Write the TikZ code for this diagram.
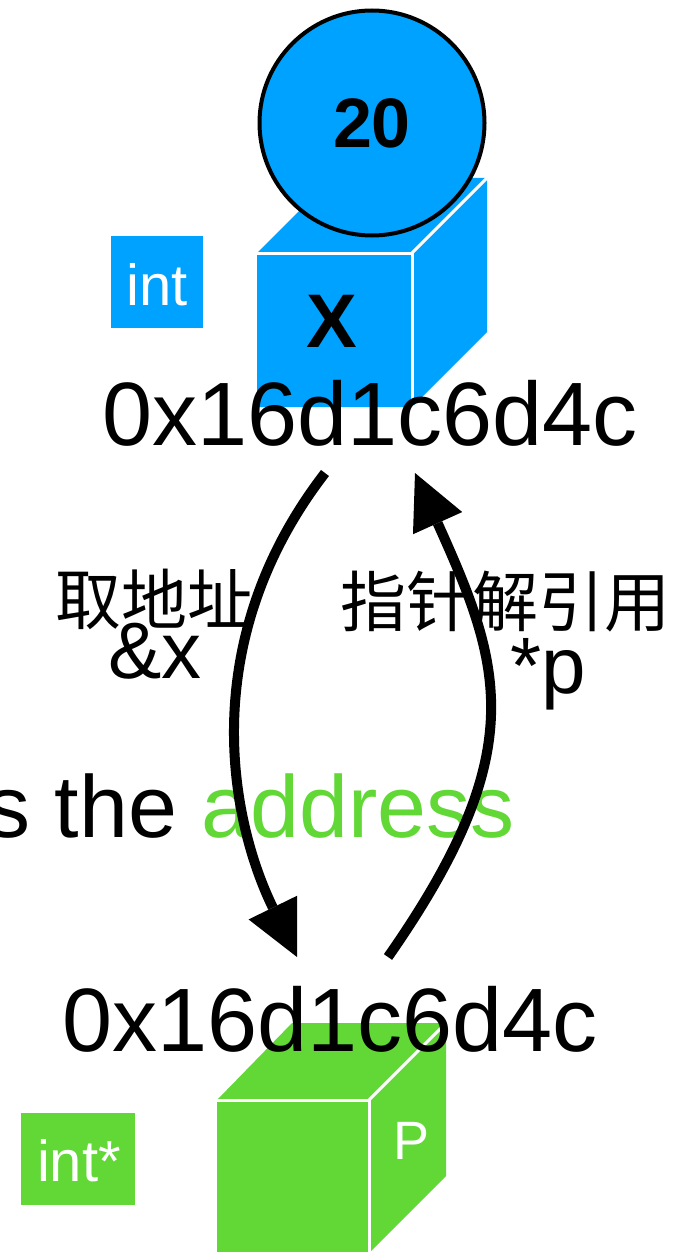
\documentclass[tikz,border=0pt]{standalone}
\usepackage{fontspec}
\setmainfont{Liberation Sans}
\newfontfamily\cjk{Noto Sans CJK SC}
\usetikzlibrary{arrows.meta}
\definecolor{keyblue}{HTML}{00A2FF}
\definecolor{keygreen}{HTML}{61D836}
\newcommand{\fs}[1]{\fontsize{#1}{#1}\selectfont}
\tikzset{
  txt/.style={inner sep=0pt, anchor=base},
  cubeedge/.style={draw=white, line width=3pt},
  typebox/.style={inner sep=0pt, text=white, anchor=base},
  ptr/.style={line width=10pt, line cap=butt,
    -{Triangle[length=55pt, width=54pt, line width=0pt]}},
}
\begin{document}
\begin{tikzpicture}[x=1pt, y=-1pt]
\useasboundingbox (0,0) rectangle (675,1252);

% variable x: blue cube
\fill[keyblue] (257,253) -- (332,178) -- (487,178) -- (487,332) -- (412,407) -- (257,407) -- cycle;
\draw[cubeedge] (257,253) -- (412,253) -- (412,407);
\draw[cubeedge] (412,253) -- (487,178);
\node[txt] (xname) at (332,347) {\fs{76}\bfseries X};
\node[circle, draw=black, line width=4pt, fill=keyblue, minimum size=225pt, inner sep=0pt]
  (val) at (372,123) {\fs{70}\bfseries 20};
\fill[keyblue] (111,236) rectangle (203,328);
\node[typebox] (xtype) at (157,305) {\fs{58}int};
\node[txt] (xaddr) at (370,445) {\fs{90}0x16d1c6d4c};

% pointer p: green cube
\fill[keygreen] (217,1100) -- (292,1023) -- (446,1023) -- (446,1176) -- (360,1262) -- (217,1262) -- cycle;
\draw[cubeedge] (217,1100) -- (369,1100) -- (369,1262);
\draw[cubeedge] (369,1100) -- (446,1023);
\node[typebox] (pname) at (412,1159) {\fs{54}P};
\fill[keygreen] (21,1113) rectangle (135,1205);
\node[typebox] (ptype) at (79,1181) {\fs{58}int*};
\node[txt] (paddr) at (330,1051) {\fs{90}0x16d1c6d4c};

% caption behind the arrows
\node[inner sep=0pt, anchor=base east] (cap) at (515,837)
  {\fs{88}s the \textcolor{keygreen}{address}};

% operator labels
\node[txt] (takeaddr) at (154,624) {\fs{66}\cjk 取地址};
\node[txt] (amp) at (155,678) {\fs{80}\&x};
\node[txt] (deref) at (505,626) {\fs{66}\cjk 指针解引用};
\node[txt] (star) at (548,693) {\fs{80}*p};

% connectors between the two addresses
\coordinate (xOut) at (325,473);
\coordinate (pIn)  at (297,957);
\coordinate (pOut) at (388,957);
\coordinate (xIn)  at (415,473);
\draw[ptr] (xOut) .. controls (194,643) and (231,822) .. (pIn);
\draw[ptr] (pOut) .. controls (532,751) and (502,666) .. (xIn);
\end{tikzpicture}
\end{document}
